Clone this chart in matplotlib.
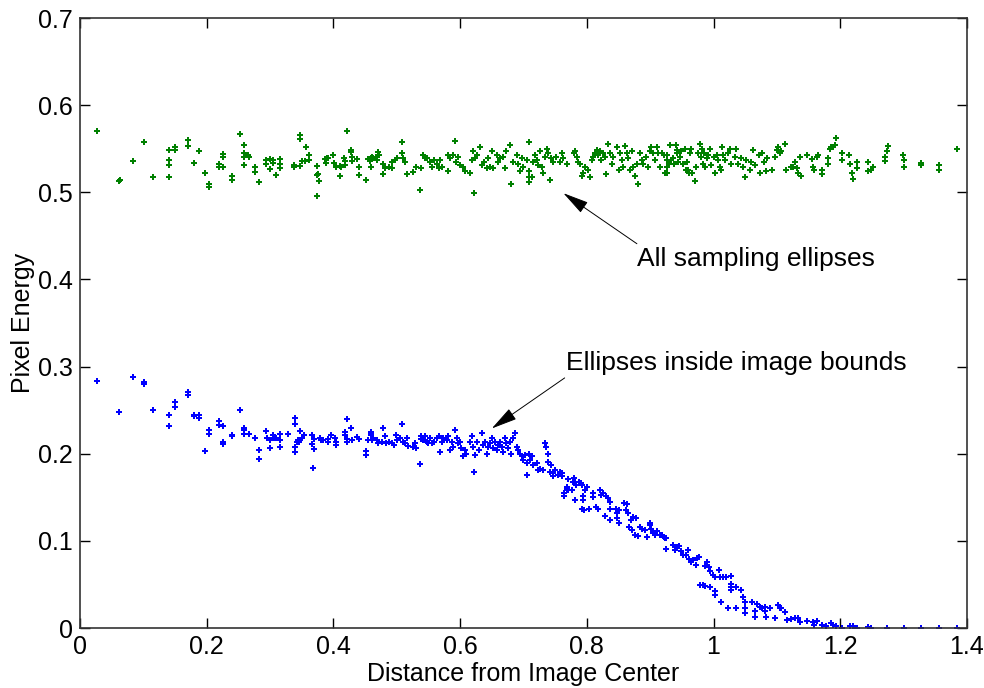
import matplotlib
matplotlib.use("Agg")
import matplotlib.pyplot as plt

# values
all_x = [0.027, 0.062, 0.063, 0.084, 0.101, 0.115, 0.141, 0.141, 0.141, 0.141, 0.150, 0.150, 0.170, 0.170,
         0.180, 0.188, 0.197, 0.204, 0.204, 0.219, 0.219, 0.226, 0.226, 0.226, 0.240, 0.240, 0.253, 0.259,
         0.259, 0.259, 0.259, 0.265, 0.266, 0.277, 0.277, 0.283, 0.294, 0.294, 0.300, 0.300, 0.304, 0.304,
         0.310, 0.315, 0.315, 0.315, 0.337, 0.337, 0.347, 0.347, 0.347, 0.350, 0.355, 0.356, 0.361, 0.361,
         0.374, 0.374, 0.376, 0.377, 0.374, 0.387, 0.389, 0.390, 0.391, 0.400, 0.401, 0.404, 0.410, 0.411,
         0.412, 0.417, 0.418, 0.419, 0.422, 0.427, 0.427, 0.430, 0.430, 0.438, 0.440, 0.441, 0.452, 0.455,
         0.458, 0.459, 0.461, 0.463,
         0.460, 0.467, 0.471, 0.472, 0.468, 0.479, 0.481, 0.479, 0.487, 0.492, 0.493, 0.497, 0.500, 0.508,
         0.508, 0.510, 0.513, 0.516, 0.526, 0.530, 0.536, 0.538, 0.542, 0.545, 0.547, 0.552, 0.555, 0.558,
         0.563, 0.566, 0.568, 0.571, 0.581, 0.584, 0.581, 0.589, 0.592, 0.593, 0.596, 0.600, 0.605, 0.608,
         0.616, 0.618, 0.621, 0.623, 0.622, 0.626, 0.631, 0.634, 0.637, 0.642, 0.644, 0.647, 0.650, 0.652,
         0.658, 0.660, 0.663, 0.668, 0.671, 0.673, 0.679, 0.681, 0.684, 0.689, 0.692, 0.694, 0.697, 0.700,
         0.705, 0.708, 0.708, 0.708, 0.709, 0.714, 0.715, 0.718, 0.721, 0.723, 0.726, 0.729, 0.731, 0.734,
         0.737, 0.739, 0.742, 0.744, 0.747, 0.752, 0.758, 0.760, 0.763, 0.768,
         0.779, 0.781, 0.784, 0.786, 0.789, 0.792, 0.794, 0.797, 0.802, 0.805, 0.808, 0.810, 0.813, 0.816,
         0.818, 0.821, 0.823, 0.826, 0.829, 0.830, 0.834, 0.836, 0.839, 0.842, 0.847, 0.850, 0.852, 0.855,
         0.857, 0.860, 0.863, 0.865, 0.868, 0.871, 0.873, 0.876, 0.879, 0.881, 0.884, 0.887, 0.889, 0.894,
         0.897, 0.900, 0.902, 0.905, 0.908, 0.910, 0.913, 0.915, 0.918, 0.921, 0.923, 0.926, 0.929,
         0.926, 0.926, 0.926, 0.931, 0.933, 0.936, 0.938, 0.940, 0.942, 0.943, 0.944, 0.947, 0.949, 0.952,
         0.955, 0.956, 0.958, 0.960, 0.961, 0.963, 0.964, 0.966, 0.970, 0.973, 0.976, 0.979, 0.980, 0.982,
         0.984, 0.985, 0.986, 0.989, 0.992, 0.994, 0.996, 1.000, 1.002, 1.005, 1.007, 1.010, 1.012, 1.014,
         1.015, 1.018, 1.023, 1.026, 1.027, 1.034, 1.036, 1.039, 1.044, 1.047, 1.050, 1.052, 1.057, 1.059,
         1.063, 1.065, 1.071, 1.073, 1.076, 1.080, 1.082, 1.084, 1.092, 1.097, 1.100, 1.102, 1.105, 1.107,
         1.113, 1.115, 1.123, 1.126, 1.128, 1.131, 1.134, 1.136, 1.138, 1.147, 1.155, 1.157, 1.159, 1.163,
         1.165, 1.171, 1.171, 1.180, 1.180, 1.184, 1.186, 1.189, 1.192, 1.194, 1.202, 1.203, 1.213, 1.215,
         1.219, 1.220, 1.226, 1.226, 1.244, 1.244, 1.249, 1.252, 1.271, 1.271, 1.273, 1.276, 1.299, 1.301,
         1.301, 1.327, 1.328, 1.356, 1.356, 1.384]
all_y = [0.570, 0.513, 0.514, 0.536, 0.558, 0.518, 0.549, 0.537, 0.531, 0.518, 0.552, 0.548, 0.560, 0.553,
         0.534, 0.547, 0.522, 0.510, 0.506, 0.533, 0.529, 0.544, 0.541, 0.529, 0.519, 0.514, 0.567, 0.554,
         0.545, 0.540, 0.531, 0.543, 0.540, 0.529, 0.523, 0.512, 0.537, 0.533, 0.538, 0.527, 0.534, 0.537,
         0.520, 0.538, 0.533, 0.528, 0.531, 0.529, 0.566, 0.561, 0.530, 0.536, 0.536, 0.552, 0.543, 0.537,
         0.530, 0.520, 0.521, 0.513, 0.496, 0.538, 0.534, 0.539, 0.539, 0.543, 0.534, 0.529, 0.530, 0.519,
         0.529, 0.539, 0.536, 0.531, 0.570, 0.549, 0.546, 0.541, 0.536, 0.538, 0.529, 0.520, 0.514, 0.538,
         0.536, 0.529, 0.541, 0.539,
         0.539, 0.541, 0.546, 0.543, 0.537, 0.533, 0.528, 0.521, 0.529, 0.535, 0.528, 0.537, 0.539, 0.545,
         0.558, 0.539, 0.535, 0.521, 0.523, 0.529, 0.503, 0.528, 0.543, 0.539, 0.539, 0.535, 0.529, 0.537,
         0.533, 0.528, 0.537, 0.529, 0.543, 0.539, 0.524, 0.543, 0.559, 0.535, 0.541, 0.531, 0.529, 0.524,
         0.522, 0.537, 0.547, 0.539, 0.499, 0.543, 0.552, 0.531, 0.535, 0.528, 0.539, 0.529, 0.547, 0.528,
         0.543, 0.535, 0.539, 0.541, 0.528, 0.547, 0.554, 0.509, 0.535, 0.543, 0.533, 0.524, 0.539, 0.529,
         0.537, 0.558, 0.524, 0.517, 0.512, 0.517, 0.535, 0.543, 0.537, 0.531, 0.547, 0.529, 0.522, 0.541,
         0.550, 0.545, 0.514, 0.539, 0.535, 0.541, 0.535, 0.545, 0.539, 0.533,
         0.545, 0.547, 0.541, 0.535, 0.533, 0.519, 0.522, 0.529, 0.526, 0.517, 0.537, 0.541, 0.545, 0.549,
         0.543, 0.547, 0.537, 0.545, 0.541, 0.521, 0.555, 0.545, 0.533, 0.541, 0.552, 0.526, 0.545, 0.537,
         0.529, 0.553, 0.545, 0.539, 0.526, 0.547, 0.529, 0.519, 0.533, 0.510, 0.545, 0.537, 0.533, 0.541,
         0.529, 0.547, 0.552, 0.545, 0.537, 0.552, 0.545, 0.529, 0.545, 0.543, 0.522, 0.537, 0.533,
         0.543, 0.529, 0.522, 0.554, 0.537, 0.539, 0.533, 0.554, 0.545, 0.549, 0.535, 0.541, 0.547, 0.533,
         0.550, 0.526, 0.535, 0.526, 0.522, 0.545, 0.550, 0.522, 0.513, 0.529, 0.545, 0.556, 0.541, 0.550,
         0.533, 0.545, 0.529, 0.539, 0.543, 0.550, 0.531, 0.541, 0.522, 0.543, 0.537, 0.529, 0.526, 0.552,
         0.543, 0.537, 0.545, 0.550, 0.533, 0.541, 0.550, 0.533, 0.539, 0.529, 0.517, 0.537, 0.526, 0.535,
         0.549, 0.531, 0.543, 0.522, 0.545, 0.535, 0.524, 0.539, 0.526, 0.541, 0.549, 0.552, 0.545, 0.547,
         0.556, 0.526, 0.529, 0.529, 0.535, 0.528, 0.522, 0.541, 0.519, 0.543, 0.538, 0.529, 0.526, 0.541,
         0.543, 0.526, 0.521, 0.539, 0.533, 0.550, 0.552, 0.552, 0.554, 0.562, 0.545, 0.537, 0.543, 0.533,
         0.522, 0.515, 0.535, 0.528, 0.535, 0.524, 0.526, 0.529, 0.541, 0.536, 0.547, 0.553, 0.543, 0.537,
         0.529, 0.534, 0.531, 0.531, 0.526, 0.550]

inside_x = [0.027, 0.062, 0.084, 0.101, 0.101, 0.115, 0.141, 0.141, 0.150, 0.150, 0.170, 0.170, 0.180, 0.180,
            0.188, 0.188, 0.197, 0.204, 0.204, 0.219, 0.219, 0.226, 0.226, 0.226, 0.240, 0.240, 0.253, 0.259,
            0.259, 0.259, 0.266, 0.277, 0.283, 0.283, 0.294, 0.295, 0.300, 0.300, 0.304, 0.306, 0.310, 0.315,
            0.315, 0.315, 0.329, 0.339, 0.339, 0.339, 0.339, 0.342, 0.344, 0.346, 0.348, 0.350, 0.353, 0.366,
            0.366, 0.367, 0.370, 0.370, 0.379, 0.380, 0.384, 0.392, 0.392, 0.396, 0.402, 0.404, 0.404, 0.418,
            0.418, 0.421, 0.422, 0.422, 0.427, 0.429, 0.438, 0.440, 0.452, 0.452, 0.455, 0.459, 0.459, 0.461,
            0.460, 0.462, 0.468, 0.471, 0.476, 0.479, 0.481, 0.483, 0.487, 0.492, 0.495, 0.499, 0.500, 0.505,
            0.508, 0.510, 0.513, 0.516, 0.518, 0.526, 0.529, 0.531, 0.536, 0.538, 0.539, 0.542, 0.545, 0.547,
            0.550, 0.552, 0.555, 0.558, 0.563, 0.566, 0.568, 0.571, 0.573, 0.579, 0.581, 0.584, 0.587, 0.589,
            0.592, 0.595, 0.597, 0.600, 0.602, 0.604, 0.608, 0.610, 0.616, 0.618, 0.621, 0.622, 0.623, 0.626,
            0.629, 0.634, 0.636, 0.639, 0.642, 0.644, 0.647, 0.650, 0.652, 0.655, 0.658, 0.660, 0.663, 0.666,
            0.668, 0.671, 0.673, 0.676, 0.679, 0.681, 0.684, 0.687, 0.689, 0.692, 0.694, 0.697, 0.700, 0.702,
            0.705, 0.706, 0.708, 0.710, 0.713, 0.715, 0.721, 0.723, 0.726, 0.731, 0.734, 0.736, 0.738, 0.739,
            0.742, 0.744, 0.746, 0.747, 0.750, 0.755, 0.758, 0.760, 0.771, 0.768,
            0.760, 0.760, 0.764, 0.764, 0.768, 0.771, 0.771, 0.776, 0.778, 0.780, 0.781, 0.783, 0.781, 0.787,
            0.790, 0.792, 0.794, 0.794, 0.792, 0.795, 0.797, 0.800, 0.804, 0.809, 0.809, 0.815, 0.818, 0.820,
            0.822, 0.825, 0.829, 0.831, 0.834, 0.836, 0.836, 0.836, 0.846, 0.847, 0.848, 0.850, 0.851, 0.859,
            0.862, 0.863, 0.865, 0.869, 0.873, 0.878, 0.867, 0.871, 0.876, 0.881, 0.884, 0.887, 0.892, 0.895,
            0.899, 0.900, 0.902, 0.905, 0.908, 0.910, 0.915, 0.921, 0.925,
            0.918, 0.923, 0.925, 0.936, 0.939, 0.942, 0.946, 0.948, 0.951, 0.956, 0.960, 0.962, 0.965, 0.968,
            0.972, 0.974, 0.977, 0.986, 0.989, 0.993, 0.994, 0.999, 1.002, 1.009, 1.010, 1.015, 1.020, 1.027,
            0.979, 0.983, 0.986, 0.994, 1.002, 1.002, 1.012, 1.023, 1.027, 1.027, 1.027, 1.036, 1.036, 1.044,
            1.047, 1.050, 1.050, 1.050, 1.060, 1.065, 1.065, 1.068, 1.073, 1.076, 1.081, 1.081, 1.083, 1.089,
            1.097, 1.101, 1.105, 1.107, 1.113, 1.116, 1.123, 1.128, 1.134, 1.136, 1.147, 1.157, 1.158, 1.163,
            1.171, 1.178, 1.185, 1.189, 1.194, 1.202, 1.215, 1.220, 1.226, 1.244, 1.249, 1.273, 1.301, 1.328,
            1.356, 1.384]
inside_y = [0.283, 0.248, 0.288, 0.282, 0.280, 0.250, 0.244, 0.232, 0.259, 0.254, 0.271, 0.267, 0.244, 0.243,
            0.244, 0.241, 0.203, 0.227, 0.223, 0.238, 0.233, 0.232, 0.213, 0.211, 0.221, 0.220, 0.250, 0.230,
            0.227, 0.223, 0.223, 0.218, 0.204, 0.194, 0.226, 0.218, 0.216, 0.207, 0.221, 0.218, 0.218, 0.223,
            0.216, 0.208, 0.223, 0.241, 0.234, 0.208, 0.202, 0.214, 0.216, 0.213, 0.226, 0.218, 0.222, 0.221,
            0.211, 0.184, 0.217, 0.205, 0.218, 0.216, 0.216, 0.217, 0.213, 0.222, 0.218, 0.213, 0.210, 0.225,
            0.221, 0.217, 0.240, 0.213, 0.229, 0.216, 0.219, 0.217, 0.203, 0.199, 0.216, 0.225, 0.221, 0.216,
            0.224, 0.218, 0.216, 0.212, 0.214, 0.229, 0.220, 0.212, 0.214, 0.212, 0.210, 0.221, 0.216, 0.218,
            0.234, 0.214, 0.212, 0.218, 0.209, 0.208, 0.212, 0.206, 0.188, 0.217, 0.220, 0.216, 0.220, 0.214,
            0.212, 0.218, 0.212, 0.214, 0.218, 0.220, 0.202, 0.214, 0.218, 0.216, 0.220, 0.204, 0.214, 0.208,
            0.227, 0.218, 0.212, 0.214, 0.206, 0.197, 0.204, 0.200, 0.214, 0.220, 0.208, 0.179, 0.199, 0.214,
            0.204, 0.224, 0.210, 0.214, 0.200, 0.208, 0.212, 0.218, 0.206, 0.214, 0.204, 0.210, 0.214, 0.208,
            0.202, 0.218, 0.212, 0.206, 0.214, 0.200, 0.218, 0.224, 0.208, 0.204, 0.200, 0.197, 0.193, 0.199,
            0.189, 0.176, 0.200, 0.193, 0.197, 0.187, 0.189, 0.181, 0.183, 0.181, 0.212, 0.208, 0.200, 0.191,
            0.179, 0.187, 0.174, 0.178, 0.181, 0.176, 0.179, 0.174, 0.171, 0.160,
            0.178, 0.174, 0.155, 0.151, 0.162, 0.171, 0.158, 0.158, 0.168, 0.172, 0.168, 0.164, 0.147, 0.167,
            0.166, 0.164, 0.151, 0.147, 0.137, 0.135, 0.158, 0.162, 0.136, 0.155, 0.150, 0.139, 0.136, 0.158,
            0.153, 0.155, 0.128, 0.151, 0.149, 0.124, 0.145, 0.136, 0.137, 0.132, 0.126, 0.120, 0.135, 0.143,
            0.135, 0.142, 0.132, 0.124, 0.127, 0.126, 0.116, 0.112, 0.107, 0.106, 0.116, 0.114, 0.112, 0.105,
            0.118, 0.121, 0.114, 0.109, 0.107, 0.111, 0.107, 0.104, 0.103,
            0.107, 0.103, 0.091, 0.095, 0.090, 0.093, 0.094, 0.088, 0.084, 0.084, 0.090, 0.079, 0.076, 0.078,
            0.072, 0.080, 0.081, 0.071, 0.076, 0.070, 0.065, 0.061, 0.059, 0.066, 0.059, 0.058, 0.058, 0.060,
            0.049, 0.049, 0.048, 0.047, 0.043, 0.038, 0.030, 0.023, 0.050, 0.047, 0.044, 0.047, 0.023, 0.044,
            0.036, 0.030, 0.023, 0.017, 0.030, 0.019, 0.013, 0.028, 0.024, 0.023, 0.024, 0.019, 0.013, 0.023,
            0.012, 0.026, 0.023, 0.023, 0.018, 0.009, 0.010, 0.011, 0.011, 0.007, 0.008, 0.007, 0.003, 0.008,
            0.003, 0.002, 0.006, 0.003, 0.002, 0.000, 0.002, 0.002, 0.000, 0.001, 0.000, 0.000, 0.000, 0.000,
            0.000, 0.000]

x_ticks = [0, 0.2, 0.4, 0.6, 0.8, 1.0, 1.2, 1.4]
x_tick_labels = ["0", "0.2", "0.4", "0.6", "0.8", "1", "1.2", "1.4"]
y_ticks = [0, 0.1, 0.2, 0.3, 0.4, 0.5, 0.6, 0.7]
y_tick_labels = ["0", "0.1", "0.2", "0.3", "0.4", "0.5", "0.6", "0.7"]

plt.rcParams["font.family"] = ["Liberation Sans", "DejaVu Sans"]
plt.rcParams["font.size"] = 18

fig = plt.figure(figsize=(9.84, 6.88), dpi=100)
ax = fig.add_axes([0.0813, 0.0872, 0.9014, 0.8866])

ax.plot(all_x, all_y, linestyle="none", marker="P", markersize=4.2,
        markeredgewidth=0, color="#008000")
ax.plot(inside_x, inside_y, linestyle="none", marker="P", markersize=4.2,
        markeredgewidth=0, color="#0000ff")

ax.set_xlim(0, 1.4)
ax.set_ylim(0, 0.7)
ax.set_xticks(x_ticks)
ax.set_xticklabels(x_tick_labels)
ax.set_yticks(y_ticks)
ax.set_yticklabels(y_tick_labels)
ax.tick_params(direction="in", length=7, width=1, top=True, right=True, pad=5)
for sp in ax.spines.values():
    sp.set_color("#333333")
    sp.set_linewidth(1.2)

ax.set_xlabel("Distance from Image Center", labelpad=2)
ax.set_ylabel("Pixel Energy", labelpad=2)

# arrows drawn on their own, labels placed beside their tails
arrow = dict(arrowstyle="-|>,head_length=0.9,head_width=0.22", color="black",
             lw=0.7, mutation_scale=18, shrinkA=0, shrinkB=0)
ax.annotate("", xy=(0.763, 0.499), xytext=(0.879, 0.441), arrowprops=arrow)
ax.text(0.879, 0.423, "All sampling ellipses", ha="left", va="center", fontsize=19)
ax.annotate("", xy=(0.650, 0.229), xytext=(0.765, 0.287), arrowprops=arrow)
ax.text(0.767, 0.304, "Ellipses inside image bounds", ha="left", va="center", fontsize=19)

fig.savefig("out.png", dpi=100)
